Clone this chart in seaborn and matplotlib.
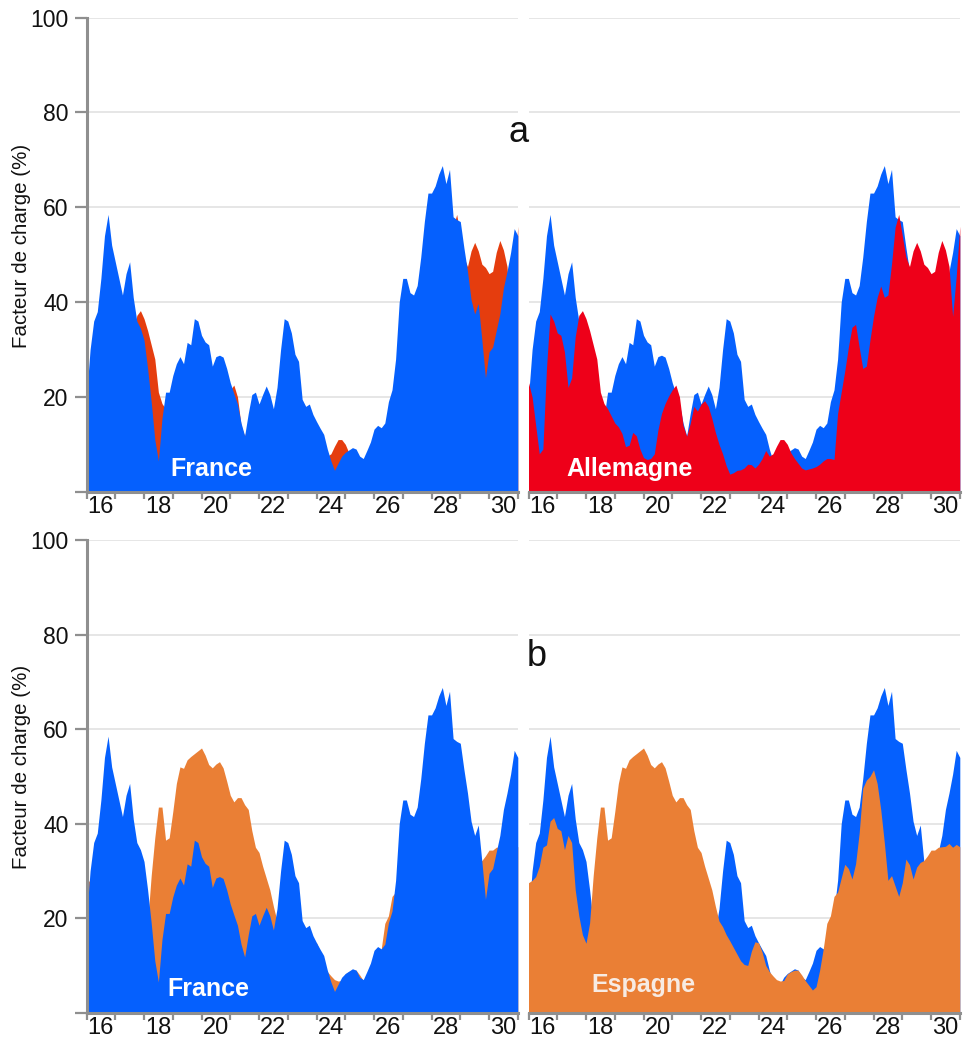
import numpy as np
import matplotlib
matplotlib.use("Agg")
import matplotlib.pyplot as plt
import seaborn as sns

# Hourly load factors sampled every 3 hours, day 16 00:00 to day 31 00:00
start_day = 16
step_hours = 3

france = [
    20, 30, 36, 38, 45, 54, 58.5, 52, 48.5, 45, 41.5, 46, 48.5, 41, 36, 34.5,
    32, 26, 19, 11, 6.5, 15.5, 21, 21, 24.5, 27, 28.5, 27, 31.5, 31, 36.5, 36,
    33, 31.6, 31, 26.5, 28.5, 28.8, 28.4, 26, 23, 20.7, 18.5, 14.5, 11.8, 16.5, 20.5, 21,
    18.5, 20.5, 22.3, 20.5, 17.5, 22, 30, 36.5, 36, 33.5, 29, 27.5, 19.5, 18, 18.5, 16.3,
    14.8, 13.4, 12.1, 9, 6.5, 4.5, 6.0, 7.5, 8.3, 8.8, 9.3, 9, 7.5, 7, 8.7, 10.5,
    13.2, 14, 13.5, 14.5, 19, 21.5, 28, 40, 45, 45, 42, 41.5, 43.5, 49.5, 57, 63,
    63, 64.5, 67, 68.8, 65, 68, 58, 57.4, 57, 51.5, 46.5, 40.5, 37.5, 39.7, 32, 24,
    29.5, 30.5, 34, 37.5, 43, 46.5, 50.5, 55.5, 54,
]

allemagne = [
    23, 20, 14, 8, 9, 26, 37.5, 36, 33.5, 33, 29.5, 22, 24, 32.7, 37.2, 38.2,
    36.5, 34, 31, 28, 21, 18.6, 17.5, 16, 14.5, 13.7, 12.3, 9.5, 9.8, 12.5, 11.8, 9,
    7.2, 6.8, 7, 8, 13, 16.5, 18.6, 20.2, 21.5, 22.5, 20, 14, 11.7, 14.4, 18, 17,
    18.5, 19.2, 18, 15.5, 12.5, 10, 8, 5.5, 3.7, 4, 4.5, 4.6, 5, 5.8, 5.7, 5,
    5.8, 7, 8.7, 7.5, 8, 9.6, 11, 11, 10, 8.2, 7, 6, 5, 4.6, 4.8, 5,
    5.3, 5.8, 6.5, 7, 7, 6.8, 16.5, 21, 25.5, 30.5, 34.7, 35.3, 30.5, 26, 26.5, 32,
    37, 41, 43.4, 41, 41.5, 48, 55.8, 58.5, 54, 49.5, 47.5, 50.8, 52.6, 50.8, 48, 47.3,
    46, 46.5, 50.5, 53, 51, 47.5, 37, 45.4, 56,
]

espagne = [
    27.5, 28, 28.8, 31, 35, 35.5, 40.5, 41.3, 39, 38.5, 34.5, 37.5, 36, 26, 20.5, 16.5,
    14.7, 19, 29, 37, 43.5, 43.5, 36.5, 37, 42.5, 48.5, 52, 51.7, 53.5, 54.2, 54.8, 55.4,
    56, 54.5, 52.5, 51.8, 52.6, 53.1, 51.8, 49, 46, 44.6, 45.5, 45.5, 44, 43, 38.5, 35,
    33.9, 31, 28.5, 26, 22.5, 19.4, 18.2, 16.5, 15.2, 13.8, 12.4, 11, 10.2, 10, 13, 15,
    14.8, 12.8, 10, 8.7, 7.8, 7, 6.7, 6.8, 8.2, 8.7, 9, 9, 8, 6.8, 5.8, 4.8,
    5.5, 9, 13.5, 18.9, 20.5, 24.6, 25.5, 28.5, 31.4, 30.5, 28.3, 31.5, 38, 47.5, 49.2, 50,
    51.4, 48.5, 43, 36, 28, 29, 26.8, 24.6, 27.5, 32.5, 31.3, 28.3, 30.8, 31.8, 32.2, 33.2,
    34.4, 34.4, 35, 35.1, 35.2, 35.8, 35, 35.6, 35.1,
]

day_ticks = list(range(16, 32))
day_labels = ["16", "18", "20", "22", "24", "26", "28", "30"]
y_ticks = [0, 20, 40, 60, 80, 100]
y_labels = ["", "20", "40", "60", "80", "100"]

t = start_day + np.arange(len(france)) * step_hours / 24.0

BLUE = "#0560fe"
RED_BACK = "#e53d0e"
RED = "#ee0019"
ORANGE = "#ea7f35"
AXIS_GREY = "#8f8f8f"
GRID_GREY = "#e4e4e4"
TEXT = "#111111"

sns.set_theme(style="white")
plt.rcParams["font.family"] = ["Liberation Sans", "DejaVu Sans"]

W, H = 963, 1041
fig = plt.figure(figsize=(W / 100, H / 100), dpi=100)


def make_axes(x0, x1, y_top, y_bottom):
    return fig.add_axes([x0 / W, 1 - y_bottom / H, (x1 - x0) / W, (y_bottom - y_top) / H])


panels = {
    "tl": make_axes(86.5, 517.8, 17.7, 491.7),
    "tr": make_axes(528.5, 959.8, 17.7, 491.7),
    "bl": make_axes(86.5, 517.8, 540.0, 1012.7),
    "br": make_axes(528.5, 959.8, 540.0, 1012.7),
}

layers = {
    "tl": [(allemagne, RED_BACK), (france, BLUE)],
    "tr": [(france, BLUE), (allemagne, RED)],
    "bl": [(espagne, ORANGE), (france, BLUE)],
    "br": [(france, BLUE), (espagne, ORANGE)],
}

for key, ax in panels.items():
    for values, color in layers[key]:
        ax.fill_between(t, 0, values, color=color, linewidth=0)
    ax.set_xlim(16, 31)
    ax.set_ylim(0, 100)
    for v in y_ticks[1:]:
        ax.axhline(v, color=GRID_GREY, linewidth=1.3, zorder=0)
    ax.set_facecolor("white")

    ax.set_xticks(day_ticks, [""] * len(day_ticks))
    ax.set_xticks([int(d) + 0.5 for d in day_labels], day_labels, minor=True)
    ax.tick_params(axis="x", which="major", direction="out", length=5, width=1.6,
                   color=AXIS_GREY, bottom=True)
    ax.tick_params(axis="x", which="minor", length=0, pad=3, labelsize=17,
                   labelcolor=TEXT, bottom=True)

    left = key in ("tl", "bl")
    sns.despine(ax=ax, top=True, right=True, left=not left)
    ax.spines["bottom"].set_color(AXIS_GREY)
    ax.spines["bottom"].set_linewidth(2.2)
    if left:
        ax.spines["left"].set_color(AXIS_GREY)
        ax.spines["left"].set_linewidth(2.2)
        ax.set_yticks(y_ticks, y_labels)
        ax.tick_params(axis="y", direction="out", length=9, width=1.6, color=AXIS_GREY,
                       pad=4, labelsize=16.5, labelcolor=TEXT, left=True)
    else:
        ax.set_yticks(y_ticks, [""] * len(y_ticks))
        ax.tick_params(axis="y", length=0)

# y-axis titles of the two rows
for yc in (246, 767):
    fig.text(22 / W, 1 - yc / H, "Facteur de charge (%)", rotation=90, fontsize=14.8,
             ha="center", va="center", color=TEXT)

label_style = dict(fontsize=18, fontweight="bold", ha="center", va="center")
panels["tl"].text(20.33, 4.8, "France", color="white", **label_style)
panels["tr"].text(19.5, 4.8, "Allemagne", color="white", **label_style)
panels["bl"].text(20.23, 5.0, "France", color="white", **label_style)
panels["br"].text(19.98, 5.9, "Espagne", color="#f7ebe3", **label_style)

fig.text(519 / W, 1 - 132 / H, "a", fontsize=26, ha="center", va="center", color=TEXT)
fig.text(537 / W, 1 - 657 / H, "b", fontsize=26, ha="center", va="center", color=TEXT)

fig.savefig("out.png", dpi=100, facecolor="white")
